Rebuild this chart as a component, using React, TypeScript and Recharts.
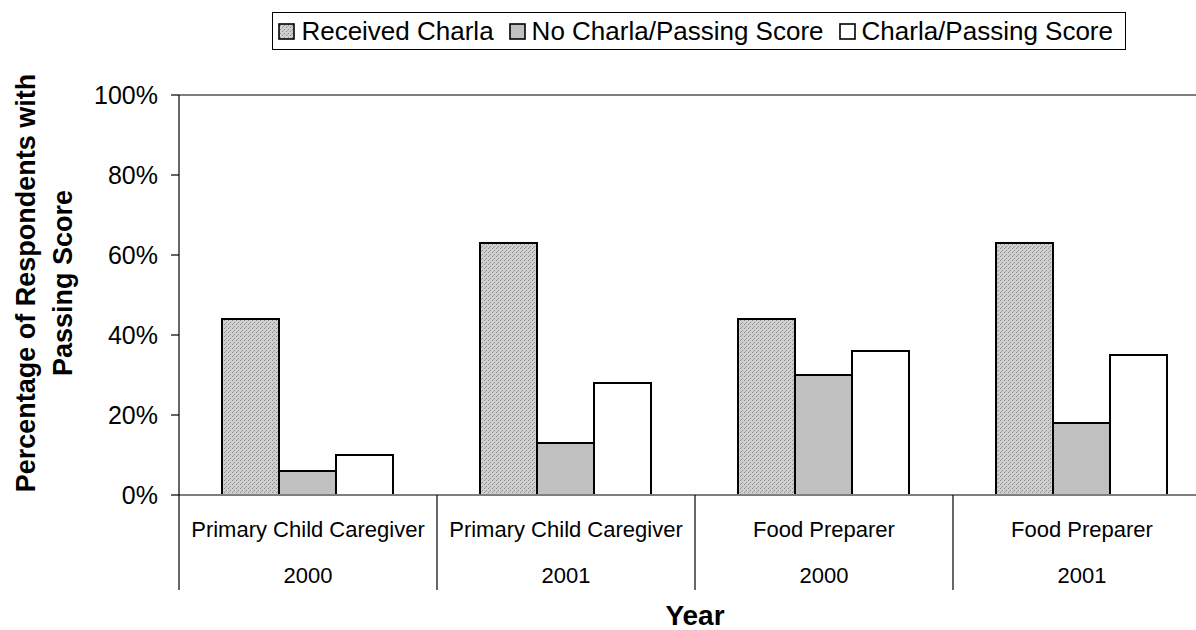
// Passing scores by role and survey year, grouped by Charla exposure.
// Excel-style clustered bars: three series per role/year, two-row category axis.

import { BarChart, Bar, XAxis, YAxis, Legend, ReferenceLine } from "recharts";

const ROLES = ["Primary Child Caregiver", "Primary Child Caregiver", "Food Preparer", "Food Preparer"];
const YEARS = ["2000", "2001", "2000", "2001"];

const SERIES_NAMES = ["Received Charla", "No Charla/Passing Score", "Charla/Passing Score"];
const RECEIVED_CHARLA = [44, 63, 44, 63];
const NO_CHARLA_PASSING = [6, 13, 30, 18];
const CHARLA_PASSING = [10, 28, 36, 35];

const Y_TICKS = [0, 20, 40, 60, 80, 100];

const FONT = "Arial, 'Liberation Sans', sans-serif";

// layout (chart is wider than the window, the right edge is cut off like the original)
const CHART_W = 1240;
const CHART_H = 630;
const PLOT_LEFT = 179;
const PLOT_RIGHT = 1211;
const PLOT_TOP = 95;
const PLOT_BOTTOM = 495;
const DIVIDER_BOTTOM = 590;
const BAND = (PLOT_RIGHT - PLOT_LEFT) / ROLES.length;

const data = ROLES.map((role, i) => ({
  key: `${role} ${YEARS[i]}`,
  role,
  year: YEARS[i],
  received: RECEIVED_CHARLA[i],
  noCharla: NO_CHARLA_PASSING[i],
  charla: CHARLA_PASSING[i],
}));

// Two-row tick: role on top, year underneath, with separators at band edges.
function CategoryTick(props: any) {
  const { x, payload, index } = props;
  const row = data.find((d) => d.key === payload.value) ?? data[index];
  const left = x - BAND / 2;
  const right = x + BAND / 2;
  return (
    <g>
      <line x1={left} x2={left} y1={PLOT_BOTTOM} y2={DIVIDER_BOTTOM} stroke="#000" strokeWidth={1.2} />
      {index === data.length - 1 && (
        <line x1={right} x2={right} y1={PLOT_BOTTOM} y2={DIVIDER_BOTTOM} stroke="#000" strokeWidth={1.2} />
      )}
      <text x={x} y={PLOT_BOTTOM + 42} textAnchor="middle" fontSize={22} fontFamily={FONT} fill="#000">
        {row.role}
      </text>
      <text x={x} y={PLOT_BOTTOM + 88} textAnchor="middle" fontSize={22} fontFamily={FONT} fill="#000">
        {row.year}
      </text>
    </g>
  );
}

function YTitle() {
  return (
    <text
      transform="translate(35, 283) rotate(-90)"
      textAnchor="middle"
      fontSize={27}
      fontWeight="bold"
      fontFamily={FONT}
      fill="#000"
    >
      <tspan x={0} y={0}>Percentage of Respondents with</tspan>
      <tspan x={0} y={37}>Passing Score</tspan>
    </text>
  );
}

function XTitle(props: any) {
  const vb = props.viewBox ?? { x: PLOT_LEFT, y: PLOT_BOTTOM, width: PLOT_RIGHT - PLOT_LEFT, height: 95 };
  return (
    <text
      x={vb.x + vb.width / 2}
      y={vb.y + vb.height + 35}
      textAnchor="middle"
      fontSize={28}
      fontWeight="bold"
      fontFamily={FONT}
      fill="#000"
    >
      Year
    </text>
  );
}

// Keep the series order of the original legend (Recharts would sort by name).
function LegendBox(props: any) {
  const items = [...(props.payload ?? [])].sort(
    (a: any, b: any) => SERIES_NAMES.indexOf(a.value) - SERIES_NAMES.indexOf(b.value),
  );
  return (
    <div
      style={{
        display: "flex",
        alignItems: "center",
        border: "1px solid #000",
        background: "#fff",
        padding: "3px 12px 3px 5px",
        fontFamily: FONT,
        fontSize: 26,
        lineHeight: "30px",
        whiteSpace: "nowrap",
        color: "#000",
      }}
    >
      {items.map((p: any, i: number) => (
        <span
          key={p.value}
          style={{ display: "inline-flex", alignItems: "center", marginRight: i < items.length - 1 ? 15 : 0 }}
        >
          <svg width={17} height={17} style={{ marginRight: 6 }}>
            <rect x={1} y={1} width={15} height={15} fill={p.color} stroke="#000" strokeWidth={1.6} />
          </svg>
          {p.value}
        </span>
      ))}
    </div>
  );
}

export default function App() {
  return (
    <div
      style={{
        position: "absolute",
        left: 0,
        top: 0,
        width: 1196,
        height: 630,
        overflow: "hidden",
        background: "#fff",
      }}
    >
      <svg width={0} height={0} style={{ position: "absolute" }}>
        <defs>
          <pattern id="charlaDots" width={4} height={4} patternUnits="userSpaceOnUse">
            <rect width={4} height={4} fill="#cfcfcf" />
            <rect x={0} y={0} width={1} height={1} fill="#8c8c8c" />
            <rect x={2} y={2} width={1} height={1} fill="#8c8c8c" />
            <rect x={1} y={3} width={1} height={1} fill="#a8a8a8" />
          </pattern>
        </defs>
      </svg>
      <BarChart
        width={CHART_W}
        height={CHART_H}
        data={data}
        margin={{ top: PLOT_TOP, right: CHART_W - PLOT_RIGHT, left: 0, bottom: CHART_H - DIVIDER_BOTTOM }}
        barCategoryGap={43}
        barGap={0}
      >
        <XAxis
          dataKey="key"
          interval={0}
          height={DIVIDER_BOTTOM - PLOT_BOTTOM}
          axisLine={{ stroke: "#7f7f7f", strokeWidth: 2 }}
          tickLine={false}
          tick={<CategoryTick />}
          label={{ content: <XTitle /> }}
        />
        <YAxis
          width={PLOT_LEFT}
          domain={[0, 100]}
          ticks={Y_TICKS}
          interval={0}
          tickFormatter={(v: number) => `${v}%`}
          axisLine={{ stroke: "#000", strokeWidth: 1.2 }}
          tickLine={{ stroke: "#000", strokeWidth: 1.2 }}
          tickSize={8}
          tickMargin={13}
          tick={{ fontSize: 25, fill: "#000", fontFamily: FONT }}
          label={{ content: <YTitle /> }}
        />
        <ReferenceLine y={100} stroke="#7f7f7f" strokeWidth={2} />
        <Legend
          layout="horizontal"
          verticalAlign="middle"
          align="center"
          content={<LegendBox />}
          wrapperStyle={{ top: 12, right: CHART_W - 1126, left: "auto", width: "auto" }}
        />
        <Bar
          dataKey="received"
          name={SERIES_NAMES[0]}
          fill="url(#charlaDots)"
          stroke="#000"
          strokeWidth={2}
          isAnimationActive={false}
        />
        <Bar
          dataKey="noCharla"
          name={SERIES_NAMES[1]}
          fill="#c0c0c0"
          stroke="#000"
          strokeWidth={2}
          isAnimationActive={false}
        />
        <Bar
          dataKey="charla"
          name={SERIES_NAMES[2]}
          fill="#ffffff"
          stroke="#000"
          strokeWidth={2}
          isAnimationActive={false}
        />
      </BarChart>
    </div>
  );
}
